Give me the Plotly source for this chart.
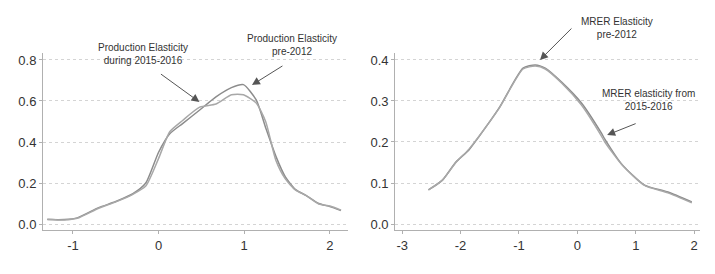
import plotly.graph_objects as go
from plotly.subplots import make_subplots

# Left panel: production elasticity
prod_x = [-1.3, -1.1, -0.95, -0.7, -0.5, -0.3, -0.15, 0.0, 0.13, 0.28, 0.48, 0.67, 0.85, 0.99, 1.14, 1.25, 1.37, 1.48, 1.6, 1.72, 1.87, 2.0, 2.13]
prod_pre2012 = [0.022, 0.022, 0.03, 0.08, 0.11, 0.148, 0.2, 0.35, 0.44, 0.49, 0.556, 0.62, 0.665, 0.68, 0.605, 0.47, 0.33, 0.23, 0.168, 0.14, 0.1, 0.085, 0.066]
prod_1516 = [0.024, 0.02, 0.028, 0.077, 0.108, 0.145, 0.185, 0.32, 0.45, 0.505, 0.57, 0.585, 0.63, 0.63, 0.59, 0.5, 0.31, 0.22, 0.165, 0.14, 0.098, 0.088, 0.068]

# Right panel: MRER elasticity
mrer_x = [-2.55, -2.31, -2.08, -1.86, -1.69, -1.34, -0.93, -0.72, -0.55, -0.27, 0.07, 0.41, 0.47, 0.76, 1.15, 1.55, 1.96]
mrer_pre2012 = [0.083, 0.107, 0.151, 0.18, 0.212, 0.283, 0.38, 0.388, 0.38, 0.346, 0.295, 0.222, 0.207, 0.146, 0.095, 0.078, 0.054]
mrer_1516 = [0.083, 0.107, 0.15, 0.182, 0.213, 0.282, 0.378, 0.385, 0.378, 0.344, 0.29, 0.215, 0.2, 0.145, 0.094, 0.076, 0.052]

left_ticks = [-1, 0, 1, 2]
right_ticks = [-3, -2, -1, 0, 1, 2]

FONT = "Liberation Sans Narrow, Arial Narrow, sans-serif"
C1 = "#8c8c8c"
C2 = "#a8a8a8"

fig = make_subplots(rows=1, cols=2, horizontal_spacing=0.072)

line_opts = dict(width=1.5, shape="spline", smoothing=0.6)
fig.add_trace(go.Scatter(x=prod_x, y=prod_pre2012, mode="lines", line=dict(color=C1, **line_opts)), row=1, col=1)
fig.add_trace(go.Scatter(x=prod_x, y=prod_1516, mode="lines", line=dict(color=C2, **line_opts)), row=1, col=1)
fig.add_trace(go.Scatter(x=mrer_x, y=mrer_pre2012, mode="lines", line=dict(color=C1, **line_opts)), row=1, col=2)
fig.add_trace(go.Scatter(x=mrer_x, y=mrer_1516, mode="lines", line=dict(color=C2, **line_opts)), row=1, col=2)

axis_common = dict(showline=True, linecolor="#b0b0b0", linewidth=1, ticks="outside", ticklen=3, automargin=False,
                   tickcolor="#b0b0b0", tickfont=dict(family=FONT, size=13, color="#333"), zeroline=False)

fig.update_xaxes(range=[-1.35, 2.21], tickvals=left_ticks, ticktext=["-1", "0", "1", "2"],
                 showgrid=False, **axis_common, row=1, col=1)
fig.update_yaxes(range=[-0.029, 0.834], tickvals=[0.0, 0.2, 0.4, 0.6, 0.8], ticktext=["0.0", "0.2", "0.4", "0.6", "0.8"],
                 showgrid=True, gridcolor="#d4d4d4", griddash="dot", gridwidth=1, **axis_common, row=1, col=1)
fig.update_xaxes(range=[-3.12, 2.1], tickvals=right_ticks, ticktext=["-3", "-2", "-1", "0", "1", "2"],
                 showgrid=False, **axis_common, row=1, col=2)
fig.update_yaxes(range=[-0.0146, 0.417], tickvals=[0.0, 0.1, 0.2, 0.3, 0.4], ticktext=["0.0", "0.1", "0.2", "0.3", "0.4"],
                 showgrid=True, gridcolor="#d4d4d4", griddash="dot", gridwidth=1, **axis_common, row=1, col=2)

afont = dict(family=FONT, size=10, color="#333")
arrow_common = dict(text="", showarrow=True, arrowhead=2, arrowsize=1.6, arrowwidth=1, arrowcolor="#555")

fig.add_annotation(x=0.477, y=0.595, xref="x", yref="y", ax=-40, ay=-29, **arrow_common)
fig.add_annotation(x=1.09, y=0.678, xref="x", yref="y", ax=32, ay=-20, **arrow_common)
fig.add_annotation(x=-0.64, y=0.4, xref="x2", yref="y2", ax=33, ay=-33, **arrow_common)
fig.add_annotation(x=0.51, y=0.217, xref="x2", yref="y2", ax=30, ay=-12, **arrow_common)

text_common = dict(xref="paper", yref="paper", showarrow=False, font=afont, align="center",
                   xanchor="center", yanchor="middle")
fig.add_annotation(x=0.152, y=0.994, text="Production Elasticity<br>during 2015-2016", **text_common)
fig.add_annotation(x=0.379, y=1.045, text="Production Elasticity<br>pre-2012", **text_common)
fig.add_annotation(x=0.874, y=1.141, text="MRER Elasticity<br>pre-2012", **text_common)
fig.add_annotation(x=0.921, y=0.734, text="MRER elasticity from<br>2015-2016", **text_common)

# page body has an 8px default margin, so the figure is drawn 8px smaller and offset
fig.update_layout(width=707, height=266, margin=dict(l=35, r=15, t=45, b=44),
                  plot_bgcolor="white", paper_bgcolor="white", showlegend=False)

fig.write_html("out.html")
